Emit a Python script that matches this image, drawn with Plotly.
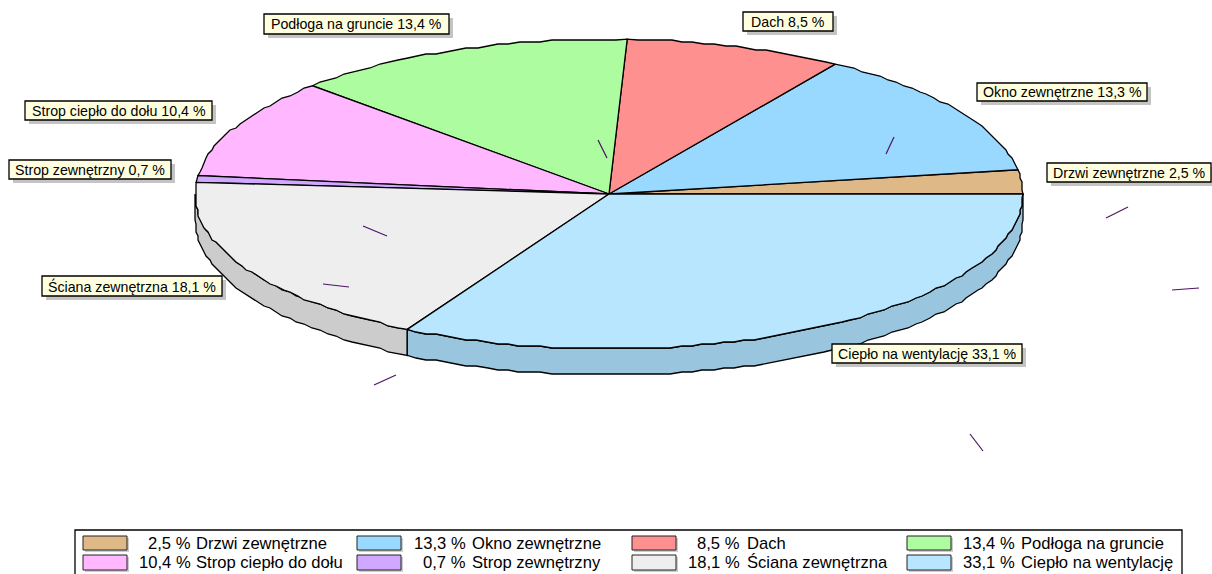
import math
import plotly.graph_objects as go

# --- data ---
names = ["Drzwi zewnętrzne", "Okno zewnętrzne", "Dach", "Podłoga na gruncie",
         "Strop ciepło do dołu", "Strop zewnętrzny", "Ściana zewnętrzna", "Ciepło na wentylację"]
values = [2.5, 13.3, 8.5, 13.4, 10.4, 0.7, 18.1, 33.1]
colors = ["#DEB887", "#99D9FF", "#FF9090", "#AEFCA0", "#FFB8FF", "#D0A8FF", "#EEEEEE", "#B8E6FF"]
wall_colors = ["#B89A70", "#80B4D4", "#D47878", "#90D085", "#D499D4", "#AD8CD4", "#CCCCCC", "#99C6DE"]

# --- layout of the drawing, in canvas units ---
W, H = 1212, 574
CX, CY, RX, RY, DEPTH = 609, 194, 414, 155, 26
GRID = 2.0  # the reference outlines are coarse polygons snapped to a grid
FONT = "Liberation Sans"
label_boxes = [(1047, 163, 1211, 182), (977, 83, 1147, 101), (743, 12, 833, 31), (264, 14, 449, 34),
               (25, 101, 212, 120), (9, 160, 171, 179), (42, 276, 222, 296), (832, 344, 1022, 363)]
tick_marks = [(598, 140, 607, 158), (894, 137, 886, 154), (1128, 207, 1106, 218), (1199, 288, 1172, 290),
              (970, 434, 983, 451), (396, 375, 374, 385), (349, 287, 323, 284), (387, 236, 363, 226)]
legend_cols = [(83, 193, 194), (357, 468, 470), (632, 742, 745), (907, 1017, 1019)]
legend_rows = [(536, 550, 543), (555, 570, 562)]


def fmt(v):
    return f"{v:.1f}".replace(".", ",") + " %"


def ell(t, dy=0):
    a = math.radians(t)
    return CX + RX * math.cos(a), CY - RY * math.sin(a) + dy


def snap(p):
    return round(p[0] / GRID) * GRID, round(p[1] / GRID) * GRID


def rim(a, b, dy=0, step=1.5):
    n = max(2, int(abs(b - a) / step) + 1)
    pts = [ell(a + (b - a) * i / (n - 1), dy) for i in range(n)]
    return [pts[0]] + [snap(p) for p in pts[1:-1]] + [pts[-1]]


fig = go.Figure()


def poly(points, fill, line="#000000", width=1.3):
    xs = [p[0] for p in points] + [points[0][0]]
    ys = [p[1] for p in points] + [points[0][1]]
    fig.add_trace(go.Scatter(x=xs, y=ys, mode="lines", fill="toself", fillcolor=fill,
                             line=dict(color=line, width=width), hoverinfo="skip", showlegend=False))


total = sum(values)
angles = [0.0]
for v in values:
    angles.append(angles[-1] + 360 * v / total)

# side wall: only the front half of the rim is visible
for i, (a, b) in enumerate(zip(angles, angles[1:])):
    lo, hi = max(a, 180), min(b, 360)
    if hi > lo:
        poly(rim(lo, hi) + rim(hi, lo, DEPTH), wall_colors[i])

# top face
for i, (a, b) in enumerate(zip(angles, angles[1:])):
    poly([(CX, CY)] + rim(a, b), colors[i])

shapes = []
annotations = []

for x0, y0, x1, y1 in tick_marks:
    shapes.append(dict(type="line", x0=x0, y0=y0, x1=x1, y1=y1,
                       line=dict(color="#4B1464", width=1.2), layer="above"))

for i, (x0, y0, x1, y1) in enumerate(label_boxes):
    shapes.append(dict(type="rect", x0=x0 + 4, y0=y0 + 4, x1=x1 + 4, y1=y1 + 4,
                       fillcolor="#C4C4C4", line=dict(width=0), layer="above"))
    shapes.append(dict(type="rect", x0=x0, y0=y0, x1=x1, y1=y1, fillcolor="#FFFFE0",
                       line=dict(color="#000000", width=1.3), layer="above"))
    annotations.append(dict(x=(x0 + x1) / 2, y=(y0 + y1) / 2, text=f"{names[i]} {fmt(values[i])}",
                            showarrow=False, xanchor="center", yanchor="middle",
                            font=dict(family=FONT, size=14.2, color="#000000")))

# legend
shapes.append(dict(type="rect", x0=75, y0=530, x1=1182, y1=H + 5, fillcolor="#FFFFFF",
                   line=dict(color="#000000", width=1.3), layer="above"))
for i in range(len(values)):
    x, pct_right, name_left = legend_cols[i % 4]
    y0, y1, ym = legend_rows[i // 4]
    shapes.append(dict(type="rect", x0=x + 2, y0=y0 + 2, x1=x + 46, y1=y1 + 2, fillcolor="#CCCCCC",
                       line=dict(width=0), layer="above"))
    shapes.append(dict(type="rect", x0=x, y0=y0, x1=x + 44, y1=y1, fillcolor=colors[i],
                       line=dict(color="#222222", width=1), layer="above"))
    annotations.append(dict(x=pct_right, y=ym, text=fmt(values[i]), showarrow=False, xanchor="right",
                            yanchor="middle", font=dict(family=FONT, size=16.6, color="#000000")))
    annotations.append(dict(x=name_left, y=ym, text=names[i], showarrow=False, xanchor="left",
                            yanchor="middle", font=dict(family=FONT, size=16.6, color="#000000")))

fig.update_layout(
    width=W, height=H, autosize=False,
    margin=dict(l=0, r=0, t=0, b=0),
    paper_bgcolor="#FFFFFF", plot_bgcolor="#FFFFFF",
    xaxis=dict(range=[0, W], visible=False, fixedrange=True),
    yaxis=dict(range=[H, 0], visible=False, fixedrange=True),
    shapes=shapes, annotations=annotations, showlegend=False,
)
fig.write_html("out.html", config={"displayModeBar": False},
               post_script="document.body.style.margin='0';document.body.style.overflow='hidden';")
